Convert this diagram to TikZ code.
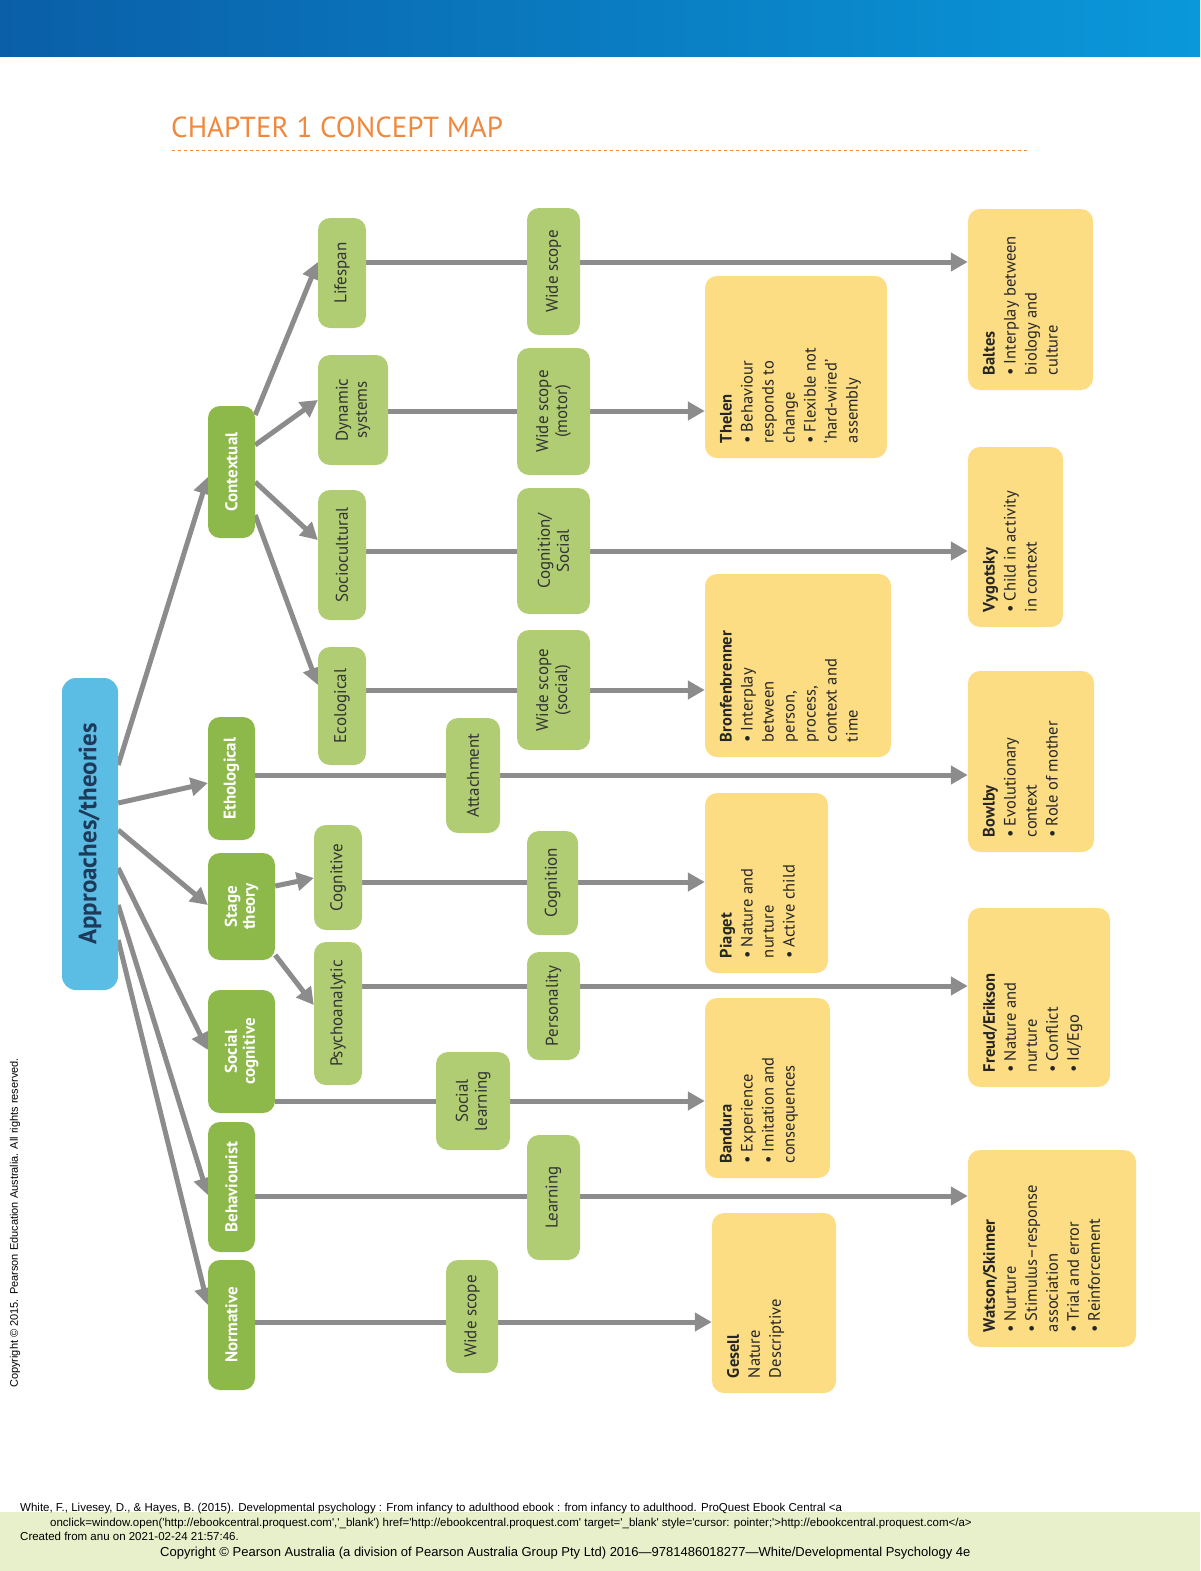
\documentclass[tikz,border=0pt]{standalone}
\usepackage{fontspec}
\setmainfont{PT Sans}
\newfontfamily\footfont{Liberation Sans}
\usetikzlibrary{arrows.meta,backgrounds}
\definecolor{dg}{HTML}{8CB94A}
\definecolor{lg}{HTML}{B0CD74}
\definecolor{yl}{HTML}{FCDD84}
\definecolor{bl}{HTML}{5BBCE4}
\definecolor{ln}{HTML}{8C8C8C}
\definecolor{org}{HTML}{F0883E}
\definecolor{band}{HTML}{E7EFCB}
\definecolor{bnA}{HTML}{0A5FA8}
\definecolor{bnB}{HTML}{0A98DA}
\definecolor{apt}{HTML}{1D3A5A}
\newcommand\yt[3]{\begin{minipage}[c][#1pt][t]{#2pt}\raggedright #3\end{minipage}}
\newcommand\bi[1]{\par\hangindent=11pt\hangafter=1\makebox[11pt][l]{•}#1}
\begin{document}
\begin{tikzpicture}[x=1pt,y=1pt,
 dgb/.style={fill=dg,rounded corners=12pt,text=white,font=\fontsize{17}{18}\selectfont\bfseries,align=center,rotate=90,inner sep=2pt},
 lgb/.style={fill=lg,rounded corners=12pt,text=black!80,font=\fontsize{17}{19}\selectfont,align=center,rotate=90,inner sep=2pt},
 yb/.style={fill=yl,rounded corners=12pt,text=black!85,font=\fontsize{16.5}{21}\selectfont,rotate=90,inner sep=0pt},
 cn/.style={draw=ln,line width=5pt},
 ar/.style={cn,-{Triangle[length=17pt,width=18pt]}}]
\useasboundingbox (0,0) rectangle (1200,-1571);
\shade[left color=bnA,right color=bnB] (0,0) rectangle (1200,-57);
\fill[band] (0,-1512) rectangle (1200,-1571);
\node[anchor=base west,text=org,font=\fontsize{29}{30}\selectfont,inner sep=0] (title) at (171,-137) {CHAPTER 1 CONCEPT MAP};
\draw[org,dashed,line width=1pt] (172,-150) -- (1028,-150);
% main
\node[fill=bl,rounded corners=14pt,rotate=90,minimum width=312,minimum height=56,text=apt,font=\fontsize{25}{26}\selectfont\bfseries] (app) at (90,-834) {Approaches/theories};
% level 1
\node[dgb,minimum width=132,minimum height=47] (ctx) at (231.5,-472) {Contextual};
\node[dgb,minimum width=123,minimum height=47] (eth) at (231.5,-778.5) {Ethological};
\node[dgb,minimum width=107,minimum height=67] (stg) at (241.5,-906.5) {Stage\\theory};
\node[dgb,minimum width=123,minimum height=67] (soc) at (241.5,-1051.5) {Social\\cognitive};
\node[dgb,minimum width=130,minimum height=47] (beh) at (231.5,-1187) {Behaviourist};
\node[dgb,minimum width=130,minimum height=47] (nor) at (231.5,-1325) {Normative};
% level 2
\node[lgb,minimum width=110,minimum height=48] (lif) at (342,-273) {Lifespan};
\node[lgb,minimum width=110,minimum height=70] (dyn) at (353,-410) {Dynamic\\systems};
\node[lgb,minimum width=130,minimum height=48] (scu) at (342,-555) {Sociocultural};
\node[lgb,minimum width=118,minimum height=48] (eco) at (342,-706) {Ecological};
\node[lgb,minimum width=105,minimum height=48] (cog) at (338,-877.5) {Cognitive};
\node[lgb,minimum width=143,minimum height=48] (psy) at (338,-1013.5) {Psychoanalytic};
\node[lgb,minimum width=115,minimum height=54] (att) at (473,-775.5) {Attachment};
\node[lgb,minimum width=98,minimum height=74] (sle) at (473,-1101) {Social\\learning};
% mid labels
\node[lgb,minimum width=127,minimum height=53] (ws1) at (553.5,-271.5) {Wide scope};
\node[lgb,minimum width=127,minimum height=73] (ws2) at (553.5,-411.5) {Wide scope\\(motor)};
\node[lgb,minimum width=126,minimum height=73] (cgs) at (553.5,-551) {Cognition/\\Social};
\node[lgb,minimum width=120,minimum height=73] (ws3) at (553.5,-690) {Wide scope\\(social)};
\node[lgb,minimum width=104,minimum height=51] (cgn) at (552.5,-883) {Cognition};
\node[lgb,minimum width=108,minimum height=53] (per) at (553.5,-1006) {Personality};
\node[lgb,minimum width=125,minimum height=53] (lrn) at (553.5,-1197.5) {Learning};
\node[lgb,minimum width=113,minimum height=52] (ws4) at (472,-1316.5) {Wide scope};
% yellow
\node[yb,minimum width=181,minimum height=125] (bal) at (1030.5,-299.5) {\yt{95}{151}{\textbf{Baltes}\bi{Interplay between\\biology and\\culture}}};
\node[yb,minimum width=182,minimum height=182] (the) at (796,-367) {\yt{152}{152}{\textbf{Thelen}\bi{Behaviour\\responds to\\change}\bi{Flexible not\\‘hard-wired’\\assembly}}};
\node[yb,minimum width=180,minimum height=95] (vyg) at (1015.5,-537) {\yt{65}{150}{\textbf{Vygotsky}\bi{Child in activity\\in context}}};
\node[yb,minimum width=183,minimum height=186] (bro) at (798,-665.5) {\yt{156}{153}{\textbf{Bronfenbrenner}\bi{Interplay\\between\\person,\\process,\\context and\\time}}};
\node[yb,minimum width=181,minimum height=126] (bow) at (1031,-761.5) {\yt{96}{151}{\textbf{Bowlby}\bi{Evolutionary\\context}\bi{Role of mother}}};
\node[yb,minimum width=180,minimum height=123] (pia) at (766.5,-883) {\yt{93}{150}{\textbf{Piaget}\bi{Nature and\\nurture}\bi{Active child}}};
\node[yb,minimum width=179,minimum height=142] (fre) at (1039,-997.5) {\yt{112}{149}{\textbf{Freud/Erikson}\bi{Nature and\\nurture}\bi{Conflict}\bi{Id/Ego}}};
\node[yb,minimum width=180,minimum height=125] (ban) at (767.5,-1088) {\yt{95}{150}{\textbf{Bandura}\bi{Experience}\bi{Imitation and\\consequences}}};
\node[yb,minimum width=197,minimum height=168] (wat) at (1052,-1248.5) {\yt{138}{167}{\textbf{Watson/Skinner}\bi{Nurture}\bi{Stimulus–response\\association}\bi{Trial and error}\bi{Reinforcement}}};
\node[yb,minimum width=180,minimum height=124] (ges) at (774,-1303) {\yt{94}{150}{\textbf{Gesell}\\Nature\\Descriptive}};
% footer
\node[rotate=90,anchor=west,font=\footfont\fontsize{11}{12}\selectfont,inner sep=0] (cpy) at (15,-1388) {Copyright © 2015. Pearson Education Australia. All rights reserved.};
\node[anchor=base west,font=\footfont\fontsize{11.5}{12}\selectfont,inner sep=0] (f1) at (20,-1511) {White, F., Livesey, D., \& Hayes, B. (2015). Developmental psychology : From infancy to adulthood ebook : from infancy to adulthood. ProQuest Ebook Central <a};
\node[anchor=base west,font=\footfont\fontsize{11.5}{12}\selectfont,inner sep=0] (f2) at (50,-1526) {onclick=window.open('http://ebookcentral.proquest.com','\_blank') href='http://ebookcentral.proquest.com' target='\_blank' style='cursor: pointer;'>http://ebookcentral.proquest.com</a>};
\node[anchor=base west,font=\footfont\fontsize{11.5}{12}\selectfont,inner sep=0] (f3) at (20,-1540) {Created from anu on 2021-02-24 21:57:46.};
\node[anchor=base west,font=\footfont\fontsize{13}{14}\selectfont,inner sep=0] (f4) at (160,-1556) {Copyright © Pearson Australia (a division of Pearson Australia Group Pty Ltd) 2016—9781486018277—White/Developmental Psychology 4e};
% connectors
\begin{pgfonlayer}{background}
\draw[ar] (app.south |- 0,-765) -- (ctx.north |- 0,-477);
\draw[ar] (app.south |- 0,-803) -- (eth.north |- 0,-783);
\draw[ar] (app.south |- 0,-830) -- (stg.north |- 0,-905);
\draw[ar] (app.south |- 0,-868) -- (soc.north |- 0,-1050);
\draw[ar] (app.south |- 0,-905) -- (beh.north |- 0,-1195);
\draw[ar] (app.south |- 0,-940) -- (nor.north |- 0,-1305);
\draw[ar] (ctx.south |- 0,-415) -- (lif.north |- 0,-262);
\draw[ar] (ctx.south |- 0,-445) -- (dyn.north |- 0,-400);
\draw[ar] (ctx.south |- 0,-482) -- (scu.north |- 0,-540);
\draw[ar] (ctx.south |- 0,-515) -- (eco.north |- 0,-685);
\draw[ar] (stg.south |- 0,-886) -- (cog.north |- 0,-878);
\draw[ar] (stg.south |- 0,-955) -- (psy.north |- 0,-1005);
\draw[ar] (lif.south |- 0,-262) -- (bal.north |- 0,-262);
\draw[ar] (dyn.south |- 0,-411) -- (the.north |- 0,-411);
\draw[ar] (scu.south |- 0,-551) -- (vyg.north |- 0,-551);
\draw[ar] (eco.south |- 0,-690) -- (bro.north |- 0,-690);
\draw[ar] (eth.south |- 0,-775) -- (bow.north |- 0,-775);
\draw[ar] (cog.south |- 0,-882) -- (pia.north |- 0,-882);
\draw[ar] (psy.south |- 0,-986) -- (fre.north |- 0,-986);
\draw[ar] (soc.south |- 0,-1101) -- (ban.north |- 0,-1101);
\draw[ar] (beh.south |- 0,-1196) -- (wat.north |- 0,-1196);
\draw[ar] (nor.south |- 0,-1322) -- (ges.north |- 0,-1322);
\end{pgfonlayer}
\end{tikzpicture}
\end{document}
